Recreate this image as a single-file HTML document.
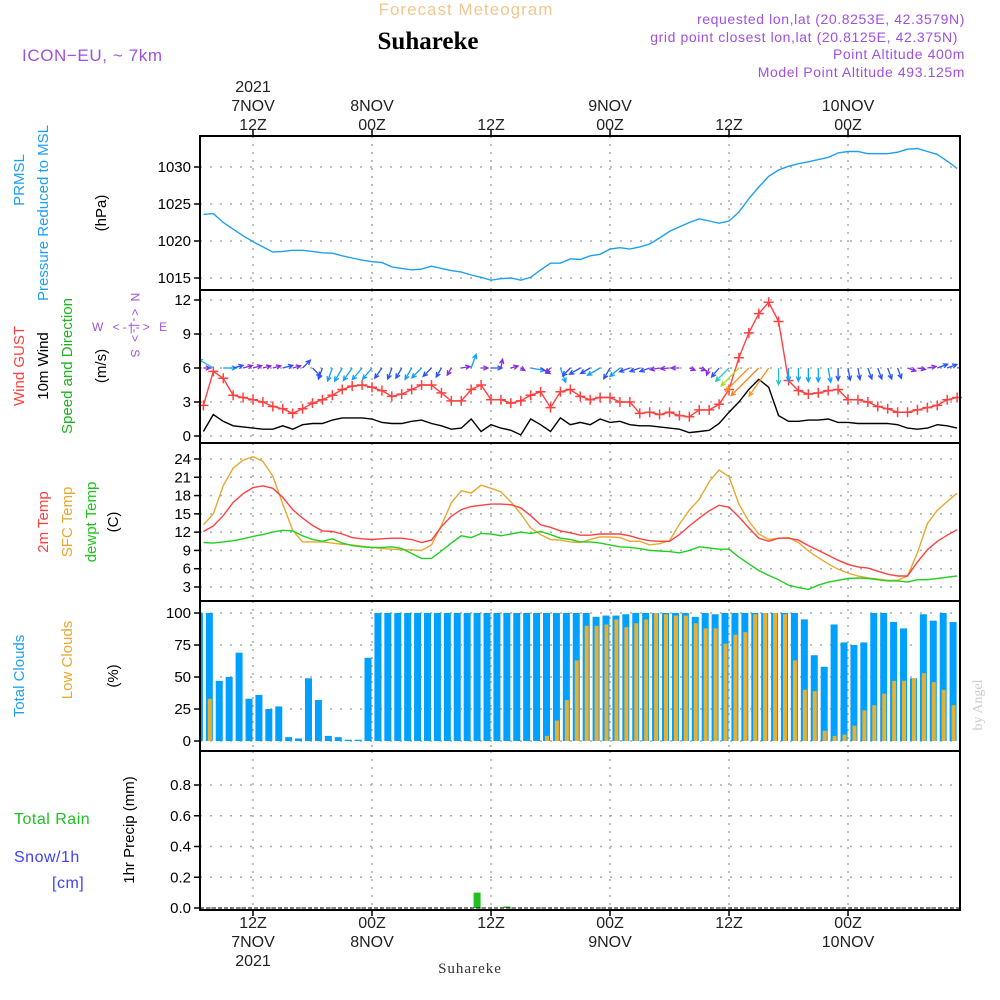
<!DOCTYPE html>
<html><head><meta charset="utf-8"><style>
html,body{margin:0;padding:0;background:#fff;}
svg{display:block;font-family:"Liberation Sans",sans-serif;}
</style></head><body>
<svg id="c" width="1000" height="1000" viewBox="0 0 1000 1000">
<defs><clipPath id="plotclip"><rect x="200" y="290" width="760" height="153"/></clipPath></defs>
<text x="466" y="15" fill="#f0c890" font-size="17" text-anchor="middle" letter-spacing="1">Forecast Meteogram</text>
<text x="428" y="49" fill="#000" font-family="Liberation Serif,serif" font-weight="bold" font-size="25" text-anchor="middle">Suhareke</text>
<text x="965" y="24" fill="#a050e0" font-size="14" text-anchor="end" letter-spacing="0.6">requested lon,lat (20.8253E, 42.3579N)</text>
<text x="958" y="42" fill="#a050e0" font-size="14" text-anchor="end" letter-spacing="0.6">grid point closest lon,lat (20.8125E, 42.375N)</text>
<text x="965" y="59" fill="#a050e0" font-size="14" text-anchor="end" letter-spacing="0.6">Point Altitude 400m</text>
<text x="965" y="77" fill="#a050e0" font-size="14" text-anchor="end" letter-spacing="0.6">Model Point Altitude 493.125m</text>
<text x="22" y="61" fill="#a050e0" font-size="17" letter-spacing="0.6">ICON−EU, ~ 7km</text>
<text x="470" y="973" fill="#333" font-family="Liberation Serif,serif" font-size="15" text-anchor="middle" letter-spacing="1">Suhareke</text>
<text transform="translate(982,705) rotate(-90)" fill="#ccc" font-family="Liberation Serif,serif" font-size="14" text-anchor="middle">by Angel</text>
<g id="g"></g>
</svg>
<script>
const press=[1023.6,1023.7,1022.5,1021.6,1020.7,1019.9,1019.2,1018.5,1018.6,1018.75,1018.75,1018.6,1018.4,1018.35,1018.0,1017.7,1017.4,1017.2,1017.1,1016.5,1016.3,1016.1,1016.2,1016.6,1016.3,1016.0,1015.8,1015.4,1015.1,1014.7,1014.9,1015.0,1014.7,1015.1,1016.1,1017.0,1017.0,1017.6,1017.5,1018.0,1018.2,1018.9,1019.1,1018.9,1019.2,1019.6,1020.4,1021.3,1021.9,1022.5,1023.0,1022.7,1022.4,1022.7,1023.9,1025.7,1027.3,1028.75,1029.6,1030.1,1030.45,1030.7,1031.0,1031.3,1031.9,1032.1,1032.1,1031.8,1031.8,1031.8,1032.0,1032.4,1032.5,1032.1,1031.7,1030.8,1029.8];
const gust=[2.7,5.7,5.1,3.6,3.4,3.2,3.0,2.6,2.4,2.0,2.4,2.9,3.2,3.6,4.1,4.4,4.5,4.3,4.0,3.5,3.7,4.1,4.5,4.5,3.8,3.1,3.1,4.1,4.5,3.2,3.2,2.9,3.1,3.6,3.9,2.5,3.9,4.1,3.5,3.2,3.4,3.4,3.0,3.0,2.0,2.1,1.9,2.1,1.8,1.7,2.3,2.3,2.8,4.1,6.9,9.1,10.8,11.8,10.1,4.9,4.0,3.7,3.8,4.0,4.1,3.2,3.2,3.0,2.6,2.4,2.1,2.1,2.3,2.5,2.7,3.2,3.4];
const wind=[0.4,1.9,1.3,0.9,0.8,0.7,0.6,0.6,0.9,0.6,1.0,1.1,1.1,1.4,1.6,1.6,1.6,1.5,1.2,1.1,1.1,1.3,1.4,1.1,0.9,0.6,0.7,1.5,0.4,1.0,0.7,0.5,0.1,1.5,1.0,0.4,1.6,1.0,1.2,1.0,1.5,1.2,1.3,1.0,0.9,0.9,0.8,0.7,0.6,0.3,0.4,0.5,1.1,2.1,3.0,4.1,5.0,4.3,1.8,1.3,1.3,1.4,1.4,1.5,1.2,1.2,1.1,1.1,1.1,1.1,1.0,0.7,0.6,0.7,1.0,0.9,0.7];
const windHeading=[90,300,90,75,75,75,75,75,75,75,45,135,200,200,210,215,220,220,215,200,210,210,225,225,210,210,80,20,90,90,10,75,120,100,120,225,160,225,240,240,240,210,230,250,250,250,260,265,270,110,110,200,220,225,225,225,225,215,180,180,180,180,180,170,180,170,170,160,160,160,160,110,100,80,70,70,80];
const t2m=[12.1,13.0,14.7,16.9,18.3,19.3,19.6,19.2,17.7,15.7,14.3,13.1,12.2,12.1,11.7,11.1,10.9,10.8,10.9,11.0,11.0,10.8,10.3,10.7,12.9,14.6,15.7,16.2,16.4,16.6,16.6,16.5,16.0,14.7,13.2,12.8,12.2,11.9,11.5,11.5,11.7,11.7,11.7,11.4,10.9,10.6,10.5,10.5,11.6,13.0,14.3,15.5,16.4,16.1,14.5,12.7,11.0,10.5,11.0,11.0,10.7,9.8,9.0,8.2,7.4,6.7,6.3,6.1,5.6,5.1,4.8,4.8,7.1,9.1,10.5,11.5,12.4];
const sfc=[13.2,15.0,19.6,22.5,23.8,24.4,23.6,21.2,16.6,12.3,10.4,10.4,10.4,10.2,10.0,9.9,9.7,9.5,9.3,9.2,9.1,9.1,9.0,9.9,13.1,16.8,18.8,18.4,19.7,19.2,18.6,17.0,15.0,12.7,11.6,10.8,10.7,10.4,10.3,10.8,11.2,11.2,11.1,10.5,10.5,9.9,10.1,10.6,13.3,15.6,17.4,20.3,22.2,21.1,16.6,13.8,11.7,10.8,11.0,11.1,10.3,8.9,7.8,6.8,5.9,5.3,4.8,4.5,4.3,4.1,4.1,4.8,8.6,13.4,15.6,17.0,18.4];
const dewpt=[10.3,10.2,10.4,10.6,10.9,11.3,11.6,12.0,12.3,12.2,11.4,10.8,10.5,10.9,10.2,9.8,9.6,9.5,9.5,9.6,9.3,8.5,7.7,7.7,8.9,10.2,11.4,11.1,11.8,11.7,11.4,11.7,12.0,11.8,12.1,11.6,11.0,10.8,10.4,10.4,10.2,9.9,9.6,9.5,9.3,9.0,8.9,8.8,8.6,9.0,9.6,9.4,9.2,9.2,7.9,6.8,5.7,4.9,4.2,3.3,2.9,2.6,3.3,3.8,4.1,4.4,4.5,4.4,4.2,4.0,4.0,3.8,4.2,4.2,4.4,4.6,4.8];
const totalClouds=[100,100,47,50,69,33,36,25,27,3,2,49,32,4,3,1,1,65,100,100,100,100,100,100,100,100,100,100,100,100,100,100,100,100,100,100,100,100,100,100,97,98,98,99,100,100,100,100,100,100,97,100,99,100,100,100,100,100,100,100,100,95,67,58,91,77,75,77,100,100,93,88,49,99,94,100,93];
const lowClouds=[0,33,0,0,0,0,0,0,0,0,0,0,0,0,0,0,0,0,0,0,0,0,0,0,0,0,0,0,0,0,0,0,0,0,0,4,16,32,63,90,90,91,95,89,92,95,100,99,98,98,92,88,88,76,83,85,99,100,100,99,63,40,39,8,4,5,12,24,28,37,47,47,49,53,46,40,28];
const precip=[0,0,0,0,0,0,0,0,0,0,0,0,0,0,0,0,0,0,0,0,0,0,0,0,0,0,0,0,0.1,0,0,0.01,0,0,0,0,0,0,0,0,0,0,0,0,0,0,0,0,0,0,0,0,0,0,0,0,0,0,0,0,0,0,0,0,0,0,0,0,0,0,0,0,0,0,0,0,0];
const pressTicks=[1015,1020,1025,1030];
const windTicks=[0,3,6,9,12];
const tempTicks=[3,6,9,12,15,18,21,24];
const cloudTicks=[0,25,50,75,100];
const precipTicks=[0,0.2,0.4,0.6,0.8];
const timeTicksHour=[0,12,24,36,48,60];
const topLabels=[["2021","7NOV","12Z"],["","8NOV","00Z"],["","","12Z"],["","9NOV","00Z"],["","","12Z"],["","10NOV","00Z"]];
const botLabels=[["12Z","7NOV","2021"],["00Z","8NOV",""],["12Z","",""],["00Z","9NOV",""],["12Z","",""],["00Z","10NOV",""]];

const NS='http://www.w3.org/2000/svg';
const G=document.getElementById('g');
function el(tag,attrs,parent){const e=document.createElementNS(NS,tag);for(const k in attrs)e.setAttribute(k,attrs[k]);(parent||G).appendChild(e);return e;}
const XL=200,XR=960;
function xHour(h){return 253+h*9.917;}
function xIdx(i){return xHour(i-5);}
const panels=[[136,290],[290,443],[443,601],[601,751],[751,910]];
const yP=v=>278-(v-1015)*7.4;
const yW=v=>436-v*136/12;
const yT=v=>587-(v-3)*128/21;
const yC=v=>741-v*1.28;
const yR=v=>908-v*153.75;

panels.forEach((p,k)=>{
  timeTicksHour.forEach(h=>{
    const l=el('line',{x1:xHour(h),x2:xHour(h),y1:p[0],y2:p[1],stroke:'#aaa','stroke-dasharray':'2,6','stroke-width':1.5});
    
    
  });
});
function yAxis(ticks,fy,fmt,name){
  ticks.forEach(v=>{
    const y=fy(v);
    const l=el('line',{x1:XL,x2:XR,y1:y,y2:y,stroke:'#aaa','stroke-dasharray':'2,8','stroke-width':1.5});
    
    
    el('line',{x1:XL-6,x2:XL,y1:y,y2:y,stroke:'#000','stroke-width':1.5});
    const t=el('text',{x:XL-9,y:y+5,'text-anchor':'end','font-size':15,fill:'#000'});
    t.textContent=fmt(v);
    
    
  });
}
yAxis(pressTicks,yP,v=>v,'pressure');
yAxis(windTicks,yW,v=>v,'wind');
yAxis(tempTicks,yT,v=>v,'temp');
yAxis(cloudTicks,yC,v=>v,'cloud');
yAxis(precipTicks,yR,v=>v.toFixed(1),'precip');

function line(arr,fy,color,name,w){
  const pts=arr.map((v,i)=>xIdx(i).toFixed(1)+','+fy(v).toFixed(1)).join(' ');
  const p=el('polyline',{points:pts,fill:'none',stroke:color,'stroke-width':w||1.4});
  
  
  return p;
}
line(press,yP,'#1ea0f0','pressure-line');

line(wind,yW,'#000','wind-speed-line');
line(gust,yW,'#ff4040','wind-gust-line');
gust.forEach((v,i)=>{
  const x=xIdx(i),y=yW(v);
  const m=el('path',{d:`M${x-5},${y}H${x+5}M${x},${y-5}V${y+5}`,stroke:'#ff4040','stroke-width':1.5});
  
  
});
function arrowColor(s){
  if(s<0.9)return '#8a2be2';if(s<1.3)return '#2a50ff';if(s<1.8)return '#10a0ff';if(s<2.3)return '#20c8c8';
  if(s<2.6)return '#40d060';if(s<3.5)return '#a0e020';if(s<4.5)return '#ff9020';if(s<4.8)return '#ff1090';return '#ff8020';
}
const AG=el('g',{'clip-path':'url(#plotclip)'});
windHeading.forEach((h,i)=>{
  const s=wind[i];const x=xIdx(i),y=yW(6);
  const len=Math.min(40,4+s*7);
  const r=h*Math.PI/180;
  const tx=x+Math.sin(r)*len,ty=y-Math.cos(r)*len;
  const a1=r+Math.PI-0.45,a2=r+Math.PI+0.45,hl=5;
  const d=`M${x},${y}L${tx},${ty}M${tx+Math.sin(a1)*hl},${ty-Math.cos(a1)*hl}L${tx},${ty}L${tx+Math.sin(a2)*hl},${ty-Math.cos(a2)*hl}`;
  const a=el('path',{d:d,fill:'none',stroke:arrowColor(s),'stroke-width':1.3},AG);
  
  
});

line(sfc,yT,'#e8a830','sfc-temp-line');
line(t2m,yT,'#ff4040','2m-temp-line');
line(dewpt,yT,'#20d020','dewpoint-line');

totalClouds.forEach((v,i)=>{
  const x=Math.max(XL,xIdx(i)-7.5),x2=xIdx(i)-0.5;
  const b=el('rect',{x:x,y:yC(v),width:Math.max(0,x2-x),height:yC(0)-yC(v),fill:'#00a0ff'});
  
  
});
lowClouds.forEach((v,i)=>{
  if(v<=0)return;
  const x=Math.max(XL,xIdx(i)-5.5);
  const b=el('rect',{x:x,y:yC(v),width:4,height:yC(0)-yC(v),fill:'#e8b030'});
  
  
});

precip.forEach((v,i)=>{
  if(v<=0)return;
  const x=xIdx(i)-7.5;
  const b=el('rect',{x:x,y:yR(v),width:7,height:yR(0)-yR(v),fill:'#20c020'});
  
  
});
el('line',{x1:XL,x2:XR,y1:yR(0),y2:yR(0),stroke:'#000','stroke-width':1,'stroke-dasharray':'4,2'});

panels.forEach(p=>{
  const r=el('rect',{x:XL,y:p[0],width:XR-XL,height:p[1]-p[0],fill:'none',stroke:'#000','stroke-width':2});
  
  
});
timeTicksHour.forEach((h,k)=>{
  const x=xHour(h);
  el('line',{x1:x,x2:x,y1:130,y2:136,stroke:'#000','stroke-width':1.5});
  el('line',{x1:x,x2:x,y1:910,y2:916,stroke:'#000','stroke-width':1.5});
  topLabels[k].forEach((s,j)=>{ if(!s)return;
    const t=el('text',{x:x,y:92+j*19,'text-anchor':'middle','font-size':16,fill:'#222'});t.textContent=s;
    
    
  });
  botLabels[k].forEach((s,j)=>{ if(!s)return;
    const t=el('text',{x:x,y:928+j*19,'text-anchor':'middle','font-size':16,fill:'#222'});t.textContent=s;
    
    
  });
});
function vlab(x,y,s,c,name,fs){
  const t=el('text',{transform:`translate(${x},${y}) rotate(-90)`,'text-anchor':'middle','font-size':fs||15,fill:c});
  t.textContent=s;
  
  
}
vlab(24,180,'PRMSL','#1ea0f0','pressure-label-1');
vlab(48,213,'Pressure Reduced to MSL','#1ea0f0','pressure-label-2');
vlab(106,213,'(hPa)','#000','pressure-unit');
vlab(24,366,'Wind GUST','#ff4040','gust-label');
vlab(48,366,'10m Wind','#000','wind-label');
vlab(72,366,'Speed and Direction','#20b020','wind-dir-label');
vlab(106,366,'(m/s)','#000','wind-unit');
vlab(48,522,'2m Temp','#ff4040','t2m-label');
vlab(72,522,'SFC Temp','#e8a830','sfc-label');
vlab(96,522,'dewpt Temp','#20c020','dewpt-label');
vlab(118,522,'(C)','#000','temp-unit');
vlab(24,676,'Total Clouds','#1ea0f0','total-cloud-label');
vlab(72,660,'Low Clouds','#e8a830','low-cloud-label');
vlab(118,676,'(%)','#000','cloud-unit');
vlab(134,830,'1hr Precip (mm)','#000','precip-unit');
const ns=el('text',{transform:'translate(131,326) rotate(90)','text-anchor':'middle','font-size':12,fill:'#a050e0','letter-spacing':2});
ns.textContent='N <-|-> S';


function hlab(x,y,s,c,name,fs,ls){
  const t=el('text',{x:x,y:y,'font-size':fs||15,fill:c,'letter-spacing':ls||0.5});
  t.textContent=s;
  
  
}
hlab(92,331,'W <-|-> E','#a050e0','compass-we',12,3);
hlab(14,824,'Total  Rain','#20c020','rain-label',16);
hlab(14,862,'Snow/1h','#4040ff','snow-label',16);
hlab(52,888,'[cm]','#4040ff','snow-unit',16);
</script>
</body></html>
